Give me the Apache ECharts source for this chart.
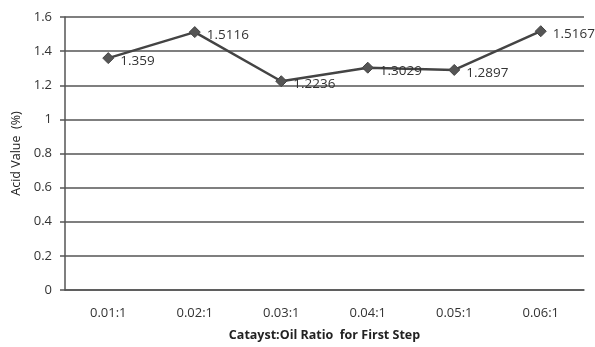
<!DOCTYPE html>
<html>
<head>
<meta charset="utf-8">
<script src="https://cdn.jsdelivr.net/npm/echarts@6/dist/echarts.min.js"></script>
<style>
  html, body { margin: 0; padding: 0; background: #fff; }
  #chart { width: 595px; height: 347px; }
</style>
</head>
<body>
<div id="chart"></div>
<script>
// Catalyst:oil ratios tested in the first step
const categories = ['0.01:1', '0.02:1', '0.03:1', '0.04:1', '0.05:1', '0.06:1'];
// Measured acid value (%) for each ratio
const acidValues = [1.359, 1.5116, 1.2236, 1.3029, 1.2897, 1.5167];
// Value-axis range and step
const yMin = 0;
const yMax = 1.6;
const yStep = 0.2;

const FONT = 'Open Sans';
const TEXT = '#333333';
const LINE = '#444444';

const chart = echarts.init(document.getElementById('chart'), null, { renderer: 'canvas' });
chart.setOption({
  animation: false,
  backgroundColor: '#ffffff',
  grid: { left: 65, right: 11, top: 17, bottom: 55, containLabel: false },
  xAxis: {
    type: 'category',
    data: categories,
    boundaryGap: true,
    name: 'Catayst:Oil Ratio  for First Step',
    nameLocation: 'middle',
    nameGap: 39,
    nameTextStyle: { fontFamily: FONT, fontSize: 12.5, color: '#222', fontWeight: 'bold' },
    axisLine: { show: true, lineStyle: { color: '#555', width: 1.5 } },
    axisTick: { show: false },
    axisLabel: { fontFamily: FONT, fontSize: 13, color: TEXT, margin: 17 },
    splitLine: { show: false }
  },
  yAxis: {
    type: 'value',
    min: yMin,
    max: yMax,
    interval: yStep,
    name: 'Acid Value  (%)',
    nameLocation: 'middle',
    nameGap: 37,
    nameTextStyle: { fontFamily: FONT, fontSize: 12.5, color: '#222' },
    axisLine: { show: true, lineStyle: { color: '#555', width: 1.5 } },
    axisTick: { show: true, length: 5, lineStyle: { color: '#555', width: 1.5 } },
    axisLabel: {
      fontFamily: FONT, fontSize: 13, color: TEXT, margin: 13,
      formatter: v => String(Math.round(v * 10) / 10)
    },
    splitLine: { show: true, lineStyle: { color: '#555', width: 1.5 } }
  },
  series: [{
    type: 'line',
    data: acidValues,
    symbol: 'diamond',
    symbolSize: 11,
    lineStyle: { color: LINE, width: 2.5 },
    itemStyle: { color: '#555555', borderColor: '#444', borderWidth: 1 },
    label: {
      show: true,
      position: 'right',
      distance: 6,
      offset: [0, 3],
      fontFamily: FONT,
      fontSize: 13.5,
      color: TEXT,
      formatter: p => String(p.value)
    }
  }]
});
</script>
</body>
</html>
